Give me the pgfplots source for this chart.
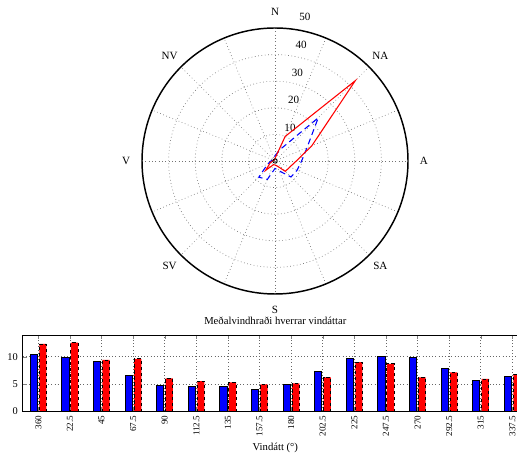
\documentclass[border=0pt]{standalone}
\usepackage{pgfplots}
\pgfplotsset{compat=1.18}
\usepackage{pgfplotstable}
\usepackage{fontspec}
\setmainfont{Liberation Serif}

% direction (compass deg), blue, red  -- polar (frequency)
\pgfplotstableread{
dir blue red
0 2 1
22.5 4.5 10
45 23 42.7
67.5 13 15
90 10 8
112.5 9 6
135 8.5 5.5
157.5 4 2
180 2.8 1.5
202.5 7.5 1.5
225 8.6 5
247.5 3 2
270 1.5 1
292.5 1 0.5
315 1 0.5
337.5 1 0.5
360 2 1
}\polardata

% mean wind speed per direction
\pgfplotstableread{
idx dir blue red
0 360 10.4 12.35
1 22.5 9.9 12.6
2 45 9.2 9.4
3 67.5 6.6 9.6
4 90 4.7 6.0
5 112.5 4.6 5.5
6 135 4.5 5.25
7 157.5 3.95 4.9
8 180 4.9 5.1
9 202.5 7.35 6.2
10 225 9.75 9.0
11 247.5 10.1 8.7
12 270 9.9 6.2
13 292.5 7.8 7.1
14 315 5.7 5.9
15 337.5 6.3 6.8
}\bardata

\begin{document}
\begin{tikzpicture}[font=\fontsize{8.3}{10}\selectfont]
\begin{axis}[
  at={(206.25pt,219pt)}, anchor=center,
  x=1.995pt, y=1.995pt,
  xmin=-60, xmax=60, ymin=-60, ymax=60,
  hide axis, clip=false,
]
% rings
\draw[black!55, dotted, line width=0.5pt] (axis cs:0,0) circle[radius=10];
\draw[black!55, dotted, line width=0.5pt] (axis cs:0,0) circle[radius=20];
\draw[black!55, dotted, line width=0.5pt] (axis cs:0,0) circle[radius=30];
\draw[black!55, dotted, line width=0.5pt] (axis cs:0,0) circle[radius=40];
% spokes
\draw[black!55, dotted, line width=0.5pt] (axis cs:0,50) -- (axis cs:0,-50);
\draw[black!55, dotted, line width=0.5pt] (axis cs:-50,0) -- (axis cs:50,0);
\draw[black!55, dotted, line width=0.5pt] (axis cs:19.134,46.194) -- (axis cs:-19.134,-46.194);
\draw[black!55, dotted, line width=0.5pt] (axis cs:35.355,35.355) -- (axis cs:-35.355,-35.355);
\draw[black!55, dotted, line width=0.5pt] (axis cs:46.194,19.134) -- (axis cs:-46.194,-19.134);
\draw[black!55, dotted, line width=0.5pt] (axis cs:46.194,-19.134) -- (axis cs:-46.194,19.134);
\draw[black!55, dotted, line width=0.5pt] (axis cs:35.355,-35.355) -- (axis cs:-35.355,35.355);
\draw[black!55, dotted, line width=0.5pt] (axis cs:19.134,-46.194) -- (axis cs:-19.134,46.194);
\draw[black, line width=1.1pt] (axis cs:0,0) circle[radius=50];
% compass labels
\node at (axis cs:0,56) {N};
\node at (axis cs:39.6,39.6) {NA};
\node at (axis cs:56,0) {A};
\node at (axis cs:39.6,-39.6) {SA};
\node at (axis cs:0,-56) {S};
\node at (axis cs:-39.6,-39.6) {SV};
\node at (axis cs:-56,0) {V};
\node at (axis cs:-39.6,39.6) {NV};
% radial labels
\node[anchor=south west, inner sep=1pt, xshift=3pt] at (axis cs:1.461,10.398) {10};
\node[anchor=south west, inner sep=1pt, xshift=3pt] at (axis cs:2.853,20.796) {20};
\node[anchor=south west, inner sep=1pt, xshift=3pt] at (axis cs:4.245,31.193) {30};
\node[anchor=south west, inner sep=1pt, xshift=3pt] at (axis cs:5.636,41.591) {40};
\node[anchor=south west, inner sep=1pt, xshift=3pt] at (axis cs:7.028,51.989) {50};
% data
\addplot[data cs=polar, blue, line width=0.8pt, dash pattern=on 4.5pt off 3pt]
  table[x expr=90-\thisrow{dir}, y=blue] {\polardata};
\addplot[data cs=polar, red, line width=0.8pt]
  table[x expr=90-\thisrow{dir}, y=red] {\polardata};
\addplot[only marks, mark=o, mark size=1.6pt, black, line width=0.6pt] coordinates {(0,0)};
\end{axis}

\begin{axis}[
  at={(16.9pt,31.5pt)}, anchor=south west,
  scale only axis, width=379.2pt, height=57pt,
  xmin=-0.5, xmax=15.5, ymin=0, ymax=14,
  xtick={0,...,15},
  xticklabels={360,22.5,45,67.5,90,112.5,135,157.5,180,202.5,225,247.5,270,292.5,315,337.5},
  ytick={0,5,10},
  xticklabel style={rotate=90, anchor=east, font=\fontsize{6.8}{8}\selectfont},
  yticklabel style={font=\fontsize{7.8}{9}\selectfont},
  tick align=inside,
  major tick length=3pt,
  xmajorgrids, ymajorgrids,
  grid style={dotted, black!60, line width=0.5pt},
  title={Meðalvindhraði hverrar vindáttar},
  title style={font=\fontsize{8}{9.6}\selectfont, yshift=-2pt},
  xlabel={Vindátt (°)},
  xlabel style={font=\fontsize{8}{9.6}\selectfont, yshift=2pt},
  axis line style={line width=0.7pt},
  /pgf/number format/assume math mode=true,
]
\addplot[ybar, bar width=5.4pt, bar shift=-3.4pt, fill=blue, draw=black, line width=0.6pt]
  table[x=idx, y=blue] {\bardata};
\addplot[ybar, bar width=5.4pt, bar shift=3.4pt, fill=red, draw=black, line width=0.6pt, dash pattern=on 2.5pt off 2pt]
  table[x=idx, y=red] {\bardata};
\end{axis}
\pgfresetboundingbox
\useasboundingbox (0,0) rectangle (387.75pt,339.75pt);
\end{tikzpicture}
\end{document}
